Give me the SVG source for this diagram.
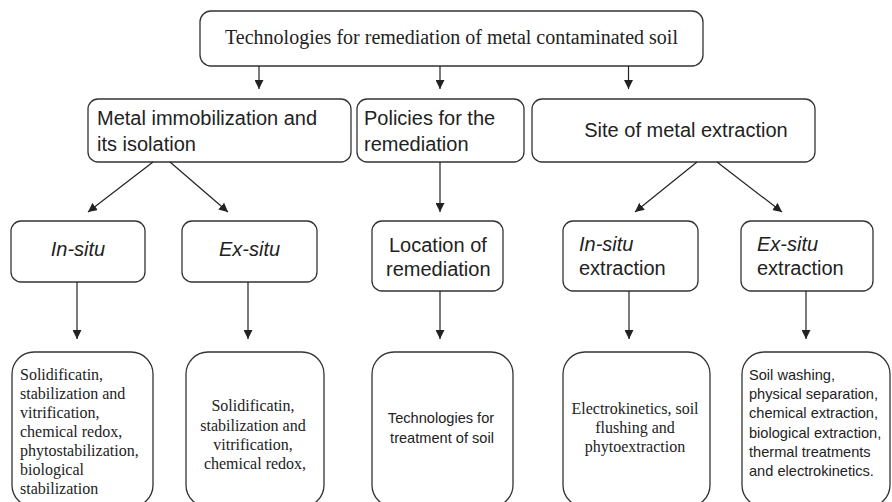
<svg xmlns="http://www.w3.org/2000/svg" width="892" height="502" viewBox="0 0 892 502">
<defs>
<marker id="ah" viewBox="0 0 10 10" refX="10" refY="5" markerWidth="9" markerHeight="9" markerUnits="userSpaceOnUse" orient="auto">
<path d="M0,0 L10,5 L0,10 z" fill="#222"/>
</marker>
<style>
.box{fill:#fff;stroke:#333;stroke-width:1.3}
.ser{font-family:"Liberation Serif","Times New Roman",serif;fill:#222}
.san{font-family:"Liberation Sans",Arial,sans-serif;fill:#222}
.l2{font-size:20px}
.l4s{font-size:16px}
.l4a{font-size:14.6px}
.it{font-style:italic}
.mid{text-anchor:middle}
.con line{stroke:#222;stroke-width:1.2;marker-end:url(#ah)}
</style>
</defs>
<rect width="892" height="502" fill="#fff"/>

<g id="root">
<rect class="box" x="200" y="11" width="503" height="55" rx="11"/>
<text class="ser mid" x="451.5" y="44" font-size="20">Technologies for remediation of metal contaminated soil</text>
</g>

<g id="immobilization">
<rect class="box" x="88" y="99" width="263" height="63" rx="10"/>
<text class="san l2" x="97" y="125">Metal immobilization and</text>
<text class="san l2" x="97" y="151">its isolation</text>
</g>

<g id="policies">
<rect class="box" x="357" y="99" width="167" height="63" rx="10"/>
<text class="san l2" x="364" y="125">Policies for the</text>
<text class="san l2" x="364" y="151">remediation</text>
</g>

<g id="site">
<rect class="box" x="532" y="99" width="283" height="63" rx="10"/>
<text class="san l2 mid" x="686" y="137">Site of metal extraction</text>
</g>

<g id="insitu">
<rect class="box" x="11" y="221" width="134" height="61" rx="10"/>
<text class="san l2 it mid" x="78" y="256">In-situ</text>
</g>

<g id="exsitu">
<rect class="box" x="182" y="221" width="135" height="61" rx="10"/>
<text class="san l2 it mid" x="249.5" y="256">Ex-situ</text>
</g>

<g id="location">
<rect class="box" x="372" y="221" width="131" height="70" rx="10"/>
<text class="san l2" x="389" y="252">Location of</text>
<text class="san l2" x="386" y="276">remediation</text>
</g>

<g id="insitu-extraction">
<rect class="box" x="563" y="221" width="135" height="70" rx="10"/>
<text class="san l2" x="579" y="251"><tspan class="it">In-situ</tspan></text>
<text class="san l2" x="579" y="275">extraction</text>
</g>

<g id="exsitu-extraction">
<rect class="box" x="741" y="221" width="132" height="70" rx="10"/>
<text class="san l2" x="757" y="251"><tspan class="it">Ex-situ</tspan></text>
<text class="san l2" x="757" y="275">extraction</text>
</g>

<g id="insitu-methods">
<rect class="box" x="12" y="352" width="141" height="155" rx="22"/>
<text class="ser l4s" x="20" y="380">Solidificatin,</text>
<text class="ser l4s" x="20" y="399">stabilization and</text>
<text class="ser l4s" x="20" y="418">vitrification,</text>
<text class="ser l4s" x="20" y="437">chemical redox,</text>
<text class="ser l4s" x="20" y="456">phytostabilization,</text>
<text class="ser l4s" x="20" y="475">biological</text>
<text class="ser l4s" x="20" y="494">stabilization</text>
</g>

<g id="exsitu-methods">
<rect class="box" x="186" y="352" width="138" height="155" rx="22"/>
<text class="ser l4s mid" x="253" y="411">Solidificatin,</text>
<text class="ser l4s mid" x="253" y="431">stabilization and</text>
<text class="ser l4s mid" x="253" y="450">vitrification,</text>
<text class="ser l4s mid" x="255" y="469">chemical redox,</text>
</g>

<g id="treatment">
<rect class="box" x="372" y="352" width="141" height="155" rx="22"/>
<text class="san l4a mid" x="441" y="423">Technologies for</text>
<text class="san l4a mid" x="442" y="443">treatment of soil</text>
</g>

<g id="extraction-methods">
<rect class="box" x="563" y="352" width="147" height="155" rx="22"/>
<text class="ser l4s mid" x="635" y="414">Electrokinetics, soil</text>
<text class="ser l4s mid" x="635" y="433">flushing and</text>
<text class="ser l4s mid" x="635" y="452">phytoextraction</text>
</g>

<g id="exsitu-extraction-methods">
<rect class="box" x="742" y="352" width="148" height="155" rx="22"/>
<text class="san l4a" x="749" y="380">Soil washing,</text>
<text class="san l4a" x="749" y="399">physical separation,</text>
<text class="san l4a" x="749" y="418">chemical extraction,</text>
<text class="san l4a" x="749" y="438">biological extraction,</text>
<text class="san l4a" x="749" y="457">thermal treatments</text>
<text class="san l4a" x="749" y="476">and electrokinetics.</text>
</g>

<g id="connectors" class="con">
<line x1="259" y1="66" x2="259" y2="89"/>
<line x1="440" y1="66" x2="440" y2="89"/>
<line x1="628.5" y1="66" x2="628.5" y2="89"/>
<line x1="153" y1="162" x2="88" y2="212"/>
<line x1="170" y1="162" x2="228" y2="212"/>
<line x1="440" y1="162" x2="440" y2="212"/>
<line x1="697" y1="162" x2="635" y2="212"/>
<line x1="717" y1="162" x2="782" y2="212"/>
<line x1="77" y1="282" x2="77" y2="339"/>
<line x1="248" y1="282" x2="248" y2="339"/>
<line x1="440" y1="291" x2="440" y2="339"/>
<line x1="629" y1="291" x2="629" y2="339"/>
<line x1="806" y1="291" x2="806" y2="339"/>
</g>
</svg>
